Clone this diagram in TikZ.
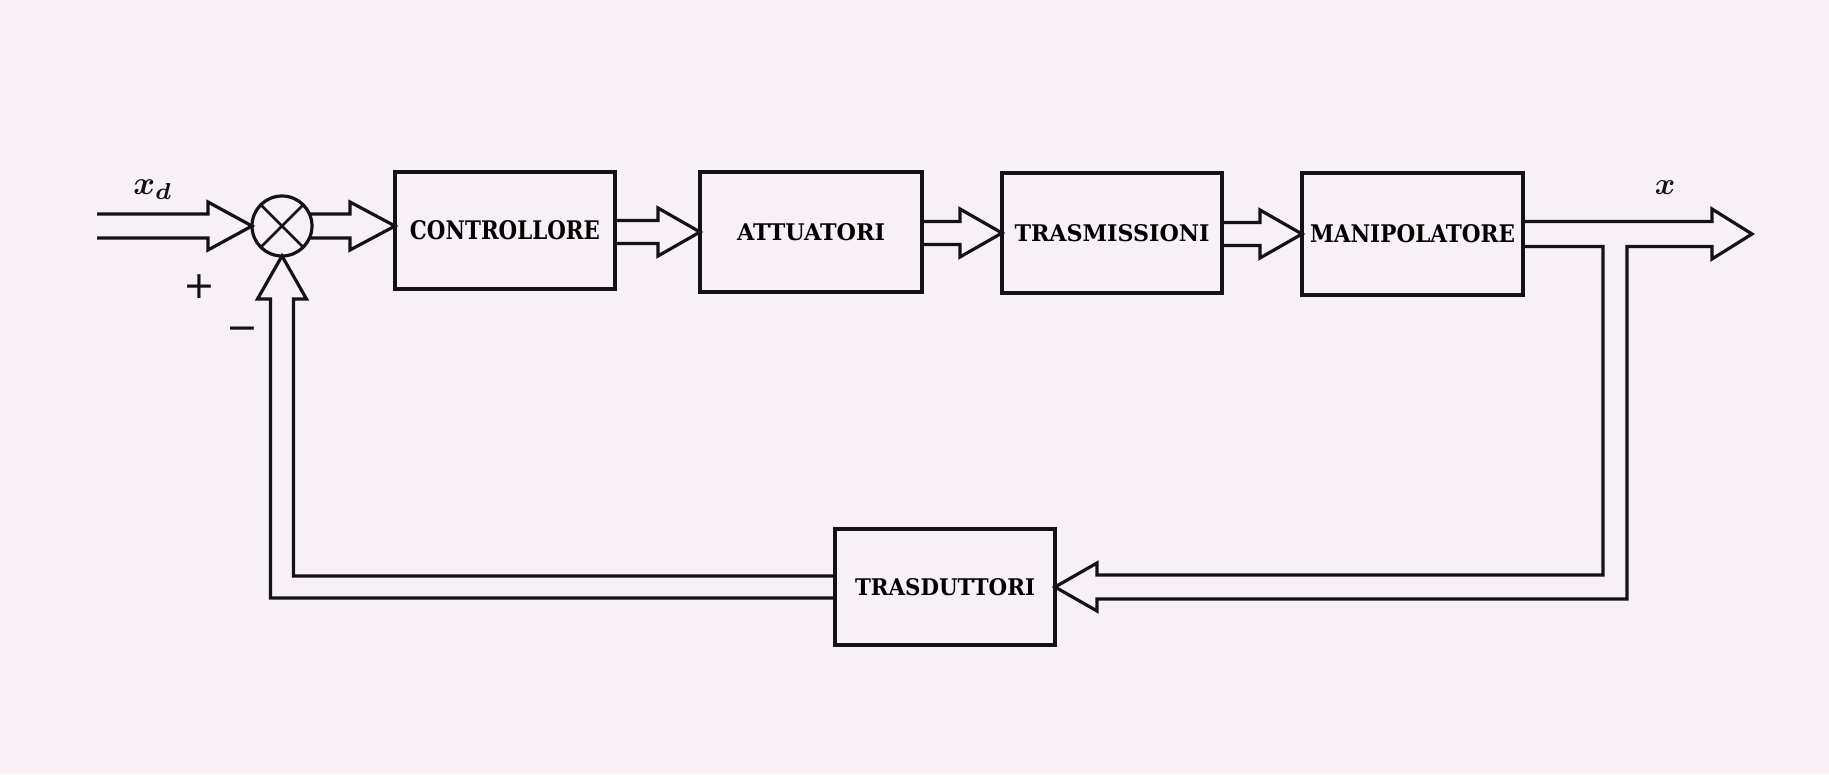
\documentclass[tikz,border=0pt]{standalone}
\usepackage{graphicx}
\usepackage{bm}
\usepackage{fontspec}
\setmainfont{DejaVu Serif}
\newfontfamily\sgnfont{DejaVu Sans}
\usetikzlibrary{calc}
\definecolor{paper}{RGB}{247,240,246}
\definecolor{ink}{RGB}{20,18,20}
\newcommand\blklabel[3]{\resizebox{#1pt}{#2pt}{\bfseries #3}}
\newcommand\hollowarr[2]{%
  \draw[pipe] ($(#1.east|-#2.west)+(0,-11.5)$) -- ($(#2.west)+(-42,-11.5)$) -- ++(0,-12.5)
    -- (#2.west) -- ($(#2.west)+(-42,24)$) -- ++(0,-12.5) -- ($(#1.east|-#2.west)+(0,11.5)$);}
\newcommand\biglabel[2]{\scalebox{#1}{$\bm{#2}$}}
\begin{document}
\begin{tikzpicture}[x=1pt,y=-1pt,
  blk/.style={draw=ink,line width=4.5pt,inner sep=0pt,outer sep=0pt,rectangle},
  pipe/.style={draw=ink,line width=3.2pt,line join=miter},
  lab/.style={inner sep=0pt,text=ink}]
\fill[paper] (0,0) rectangle (1829,774);
\useasboundingbox (0,0) rectangle (1829,774);

% blocks
\node[blk,minimum width=220pt,minimum height=117pt] (ctrl) at (505,230.5) {\blklabel{190}{19}{CONTROLLORE}};
\node[blk,minimum width=222pt,minimum height=120pt] (att) at (811,232) {\blklabel{148}{17}{ATTUATORI}};
\node[blk,minimum width=220pt,minimum height=120pt] (tras) at (1112,233) {\blklabel{195}{17}{TRASMISSIONI}};
\node[blk,minimum width=221pt,minimum height=122pt] (man) at (1412.5,234) {\blklabel{205}{18}{MANIPOLATORE}};
\node[blk,minimum width=220pt,minimum height=116pt] (trd) at (945,587) {\blklabel{180}{17}{TRASDUTTORI}};

% summing junction
\node[draw=ink,line width=3.2pt,circle,minimum size=60pt,inner sep=0pt,outer sep=0pt] (sum) at (282,226) {};
\draw[ink,line width=2.8pt] (sum.north east) -- (sum.south west) (sum.north west) -- (sum.south east);

% input arrow
\coordinate (in) at (97,226);
\draw[pipe] ($(in)+(0,-12)$) -- ($(sum.west)+(-44,-12)$) -- ++(0,-12) -- (sum.west)
  -- ($(sum.west)+(-44,24)$) -- ++(0,-12) -- ($(in)+(0,12)$);

% sum -> controllore
\coordinate (ctip) at (ctrl.west|-sum);
\draw[pipe] ($(sum)+(27.5,-12)$) -- ($(ctip)+(-45,-12)$) -- ++(0,-12) -- (ctip)
  -- ($(ctip)+(-45,24)$) -- ++(0,-12) -- ($(sum)+(27.5,12)$);

% forward chain
\hollowarr{ctrl}{att}
\hollowarr{att}{tras}
\hollowarr{tras}{man}

% output arrow with feedback take-off
\coordinate (out) at ($(man.east)+(229,0)$);
\draw[pipe] ($(man.east)+(0,-12.5)$) -- ($(out)+(-40,-12.5)$) -- ($(out)+(-40,-25)$) -- (out)
  -- ($(out)+(-40,25)$) -- ($(out)+(-40,12.5)$) -- ($(out)+(-125,12.5)$)
  |- ($(trd.east)+(42,12)$) -- ++(0,12) -- (trd.east) -- ($(trd.east)+(42,-24)$) -- ++(0,12)
  -| ($(out)+(-149,12.5)$) -- ($(man.east)+(0,12.5)$);

% feedback into the summing junction
\draw[pipe] ($(trd.west)+(0,-11)$) -| ($(sum.south)+(11.5,43)$) -- ++(13,0) -- (sum.south)
  -- ($(sum.south)+(-24.5,43)$) -- ++(13,0) |- ($(trd.west)+(0,11)$);

% labels
\node[lab] (xd) at (153,190) {\biglabel{3.3}{x_d}};
\node[lab] (xo) at (1665,188) {\biglabel{3.1}{x}};
\node[lab] (plus) at (199,287) {\sgnfont\fontsize{38}{40}\selectfont +};
\node[lab] (minus) at (242,334) {\sgnfont\fontsize{38}{40}\selectfont −};
\end{tikzpicture}
\end{document}
